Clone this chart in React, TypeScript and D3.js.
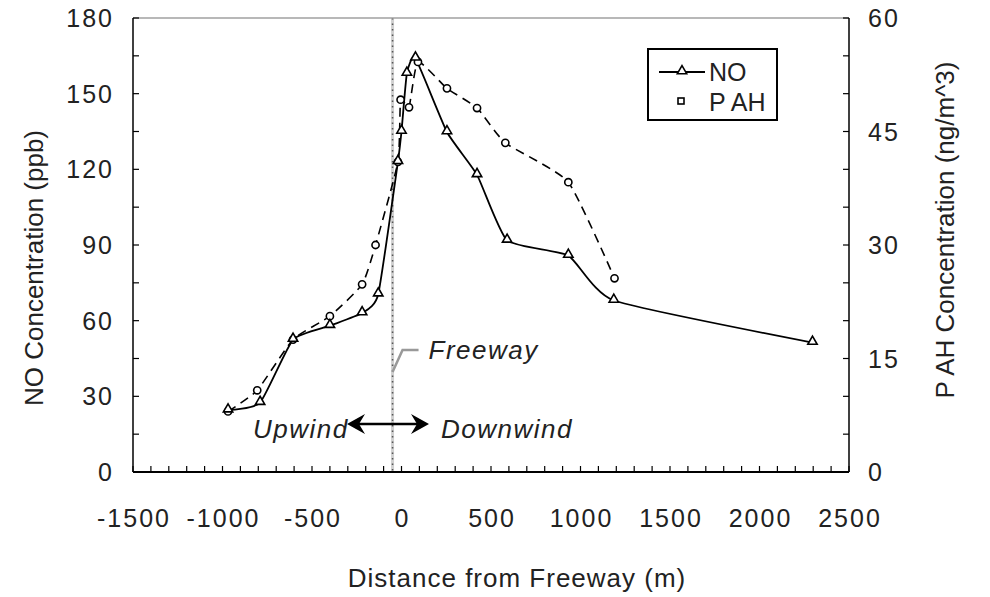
import { useMemo } from "react"
import * as d3 from "d3"

// distance from freeway (m), negative = upwind
const noDistance = [-969, -790, -606, -400, -220, -130, -20, 0, 30, 78, 254, 422, 590, 932, 1186, 2296]
const noValues = [24.5, 27.5, 52.5, 58, 63, 70.5, 123, 135, 158, 164, 134.8, 117.8, 91.8, 85.8, 68, 51.3]

const pahDistance = [-969, -806, -606, -400, -220, -145, -20, -5, 42, 92, 254, 422, 580, 932, 1190]
const pahValues = [8, 10.8, 17.5, 20.6, 24.8, 30, 41, 49.2, 48.2, 54.2, 50.7, 48.1, 43.5, 38.3, 25.6]

const xTicks = [-1500, -1000, -500, 0, 500, 1000, 1500, 2000, 2500]
const noTicks = [0, 30, 60, 90, 120, 150, 180]
const pahTicks = [0, 15, 30, 45, 60]
const freewayAt = -50

const font = "'Liberation Sans', Arial, sans-serif"

export default function App() {
    const width = 990
    const height = 597
    const margin = { top: 18, right: 141, bottom: 125, left: 133 }
    const innerW = width - margin.left - margin.right
    const innerH = height - margin.top - margin.bottom

    const x = useMemo(() => d3.scaleLinear().domain([-1500, 2500]).range([0, innerW]), [innerW])
    const yNo = useMemo(() => d3.scaleLinear().domain([0, 180]).range([innerH, 0]), [innerH])
    const yPah = useMemo(() => d3.scaleLinear().domain([0, 60]).range([innerH, 0]), [innerH])

    const noPts = noDistance.map((d, i) => [x(d), yNo(noValues[i])] as [number, number])
    const pahPts = pahDistance.map((d, i) => [x(d), yPah(pahValues[i])] as [number, number])

    const line = d3.line().curve(d3.curveCardinal.tension(0.5))
    const tri = d3.symbol().type(d3.symbolTriangle).size(38)

    const minorX = d3.range(-1500, 2501, 100)
    const minorY = d3.range(0, 181, 15)
    const fx = x(freewayAt)

    const tickStyle = { fontSize: 25, letterSpacing: 2, fill: "#222" }
    const noteStyle = { fontSize: 26, letterSpacing: 1.5, fontStyle: "italic", fill: "#222" }

    return (
        <svg
            width={width}
            height={height}
            style={{ position: "absolute", left: 0, top: 0, background: "#fff" }}
            fontFamily={font}
        >
            <g transform={`translate(${margin.left},${margin.top})`}>
                {/* freeway marker */}
                <line x1={fx} x2={fx} y1={0} y2={innerH} stroke="#d0d0d0" strokeWidth={3} />
                <line x1={fx} x2={fx} y1={0} y2={innerH} stroke="#555" strokeWidth={1.5} strokeDasharray="1.5,4" />

                {/* frame */}
                <line x1={0} x2={innerW} y1={0} y2={0} stroke="#a0a0a0" strokeWidth={1.5} />
                <line x1={0} x2={0} y1={0} y2={innerH} stroke="#000" strokeWidth={1.5} />
                <line x1={innerW} x2={innerW} y1={0} y2={innerH} stroke="#000" strokeWidth={1.5} />
                <line x1={0} x2={innerW} y1={innerH} y2={innerH} stroke="#000" strokeWidth={2} />

                {/* ticks */}
                {minorX.map((t) => (
                    <line key={`x${t}`} x1={x(t)} x2={x(t)} y1={innerH} y2={innerH - 6} stroke="#000" strokeWidth={1.2} />
                ))}
                {minorY.map((t) => (
                    <g key={`y${t}`}>
                        <line x1={0} x2={6} y1={yNo(t)} y2={yNo(t)} stroke="#000" strokeWidth={1.2} />
                        <line x1={innerW} x2={innerW - 6} y1={yNo(t)} y2={yNo(t)} stroke="#000" strokeWidth={1.2} />
                    </g>
                ))}

                {/* tick labels */}
                {xTicks.map((t) => (
                    <text key={t} x={x(t) + 1} y={innerH + 55} textAnchor="middle" {...tickStyle}>
                        {t}
                    </text>
                ))}
                {noTicks.map((t) => (
                    <text key={t} x={-19} y={yNo(t) + 9} textAnchor="end" {...tickStyle}>
                        {t}
                    </text>
                ))}
                {pahTicks.map((t) => (
                    <text key={t} x={innerW + 19} y={yPah(t) + 9} textAnchor="start" {...tickStyle}>
                        {t}
                    </text>
                ))}

                {/* series */}
                <path d={line(pahPts) ?? ""} fill="none" stroke="#000" strokeWidth={1.6} strokeDasharray="9,6" />
                <path d={line(noPts) ?? ""} fill="none" stroke="#000" strokeWidth={1.8} />
                {pahPts.map((p, i) => (
                    <circle key={`p${i}`} cx={p[0]} cy={p[1]} r={3.6} fill="#fff" stroke="#000" strokeWidth={1.6} />
                ))}
                {noPts.map((p, i) => (
                    <path key={`n${i}`} d={tri() ?? ""} transform={`translate(${p[0]},${p[1] - 1})`} fill="#fff" stroke="#000" strokeWidth={1.6} />
                ))}

                {/* annotations */}
                <polyline
                    points={`${fx},${innerH - 100} ${fx + 10},${innerH - 122} ${fx + 26},${innerH - 122}`}
                    fill="none"
                    stroke="#999"
                    strokeWidth={2.5}
                />
                <text x={fx + 36} y={innerH - 113} {...noteStyle}>Freeway</text>
                <text x={120} y={innerH - 34} {...noteStyle}>Upwind</text>
                <text x={308} y={innerH - 34} {...noteStyle}>Downwind</text>
                <line x1={218} x2={292} y1={innerH - 48} y2={innerH - 48} stroke="#000" strokeWidth={2.5} />
                <path d={`M214,${innerH - 48} l18,-10 l-6,10 l6,10 z`} fill="#000" />
                <path d={`M296,${innerH - 48} l-18,-10 l6,10 l-6,10 z`} fill="#000" />

                {/* legend */}
                <g transform={`translate(${515},${31})`}>
                    <rect x={0} y={0} width={129} height={71} fill="#fff" stroke="#000" strokeWidth={2} />
                    <line x1={11} x2={57} y1={23} y2={23} stroke="#000" strokeWidth={1.8} />
                    <path d={tri() ?? ""} transform="translate(34,22)" fill="#fff" stroke="#000" strokeWidth={1.6} />
                    <text x={61} y={32} fontSize={25} fill="#222">NO</text>
                    <rect x={30} y={49} width={6} height={6} fill="#fff" stroke="#000" strokeWidth={1.6} />
                    <text x={61} y={62} fontSize={25} fill="#222">P AH</text>
                </g>
            </g>

            {/* axis titles */}
            <text
                transform={`translate(43,${margin.top + innerH / 2 + 23}) rotate(-90)`}
                textAnchor="middle"
                fontSize={26}
                fill="#222"
            >
                NO Concentration (ppb)
            </text>
            <text
                transform={`translate(954,${margin.top + innerH / 2 - 15}) rotate(-90)`}
                textAnchor="middle"
                fontSize={26}
                fill="#222"
            >
                P AH Concentration (ng/m^3)
            </text>
            <text x={517} y={587} textAnchor="middle" fontSize={26} letterSpacing={1} fill="#222">
                Distance from Freeway (m)
            </text>
        </svg>
    )
}
